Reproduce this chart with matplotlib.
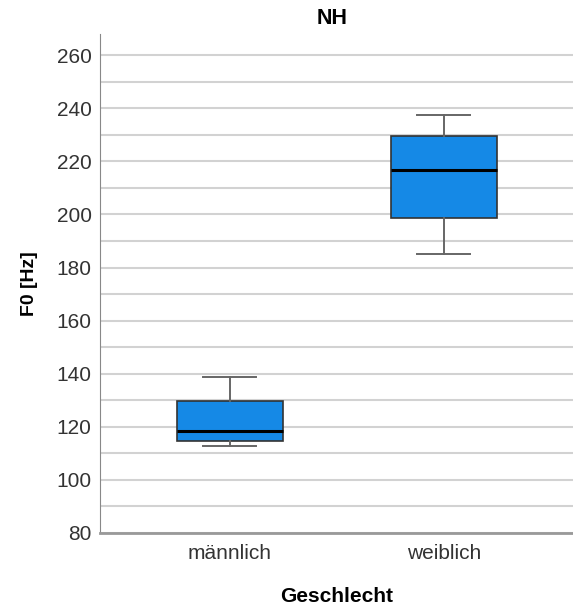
import matplotlib
matplotlib.use("Agg")
import matplotlib.pyplot as plt
import numpy as np

plt.rcParams['font.family'] = ['Liberation Sans', 'DejaVu Sans']

# box statistics
groups = ["männlich", "weiblich"]
whislo = [112.8, 185.0]
q1 = [114.8, 198.6]
med = [118.6, 216.9]
q3 = [129.6, 229.4]
whishi = [138.9, 237.6]

stats = []
for i, g in enumerate(groups):
    stats.append(dict(label=g, whislo=whislo[i], q1=q1[i], med=med[i],
                      q3=q3[i], whishi=whishi[i], fliers=[]))

fig = plt.figure(figsize=(5.73, 6.07), dpi=100)
ax = fig.add_axes([100/573, 74/607, 473/573, 499/607])

pos = np.arange(1, len(groups) + 1)
ax.bxp(stats, positions=pos, widths=0.495, patch_artist=True, showfliers=False,
       boxprops=dict(facecolor="#1589e6", edgecolor="#333333", linewidth=1.2),
       medianprops=dict(color="black", linewidth=2.2),
       whiskerprops=dict(color="#666666", linewidth=1.4),
       capprops=dict(color="#666666", linewidth=1.4),
       zorder=3)

ax.set_xlim(0.393, 2.603)
ax.set_ylim(80, 268)
ax.set_yticks(np.arange(80, 261, 20))
ax.set_yticks(np.arange(90, 261, 20), minor=True)
ax.yaxis.grid(True, which="both", color="#d2d2d2", linewidth=1.5, zorder=0)
ax.set_axisbelow(True)

ax.set_xticks(pos)
ax.set_xticklabels(groups)
ax.tick_params(axis="both", which="both", length=0, labelsize=15, labelcolor="#333333")
ax.tick_params(axis="y", pad=6)
ax.tick_params(axis="x", pad=8)

for s in ["top", "right"]:
    ax.spines[s].set_visible(False)
ax.spines["left"].set_color("#888888")
ax.spines["bottom"].set_color("#999999")
ax.spines["bottom"].set_linewidth(2)

ax.set_title("NH", fontsize=15.5, fontweight="bold", pad=7, x=0.49)
ax.set_ylabel("F0 [Hz]", fontsize=14, fontweight="bold", labelpad=13)
ax.set_xlabel("Geschlecht", fontsize=15, fontweight="bold", labelpad=17)

plt.savefig("out.png", dpi=100)
